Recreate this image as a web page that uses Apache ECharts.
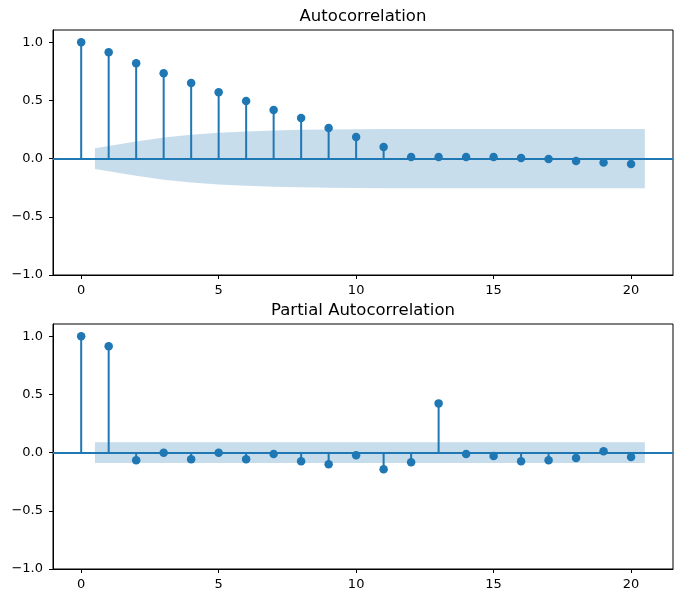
<!DOCTYPE html>
<html>
<head>
<meta charset="utf-8">
<script src="https://cdn.jsdelivr.net/npm/echarts@6/dist/echarts.min.js"></script>
<style>
html,body{margin:0;padding:0;background:#fff;}
#chart{width:683px;height:603px;}
</style>
</head>
<body>
<div id="chart"></div>
<script>
// ---- data ----
const lags = [0,1,2,3,4,5,6,7,8,9,10,11,12,13,14,15,16,17,18,19,20];
const acfValues = [1.0,0.914,0.82,0.734,0.649,0.571,0.494,0.417,0.349,0.263,0.186,0.10,0.014,0.014,0.014,0.014,0.006,-0.003,-0.02,-0.034,-0.046];
const pacfValues = [1.0,0.914,-0.066,-0.002,-0.057,-0.002,-0.057,-0.011,-0.074,-0.10,-0.023,-0.143,-0.083,0.423,-0.011,-0.029,-0.074,-0.066,-0.046,0.011,-0.037];
const bandX = [0.5,2,3,4,5,6,7,8,9,10,11,12,13,14,15,16,17,18,19,20.5];
const acfBand = [0.09,0.148,0.182,0.205,0.222,0.233,0.241,0.247,0.251,0.253,0.254,0.255,0.255,0.255,0.255,0.255,0.255,0.255,0.255,0.255];
const pacfBand = [0.09,0.09,0.09,0.09,0.09,0.09,0.09,0.09,0.09,0.09,0.09,0.09,0.09,0.09,0.09,0.09,0.09,0.09,0.09,0.09];
const xTicks = [0,5,10,15,20];
const yTicks = [-1,-0.5,0,0.5,1];
const titles = ['Autocorrelation','Partial Autocorrelation'];

// ---- chart ----
const BLUE = '#1f77b4';
const FONT = '"DejaVu Sans", sans-serif';
const chart = echarts.init(document.getElementById('chart'), null, {renderer:'canvas'});

const grids = [
  {left:53, right:10, top:30, height:245},
  {left:53, right:10, top:324, height:245}
];

function xAxisDef(i){
  return {
    type:'value', gridIndex:i, min:-1.025, max:21.525,
    splitLine:{show:false},
    axisLine:{show:true, onZero:false, lineStyle:{color:'#000', width:1}},
    axisTick:{show:true, length:4, inside:false, customValues:xTicks, lineStyle:{color:'#000', width:1}},
    axisLabel:{show:true, margin:9, customValues:xTicks, color:'#000', fontFamily:FONT, fontSize:13,
      formatter:v=>String(v)}
  };
}
function yAxisDef(i){
  return {
    type:'value', gridIndex:i, min:-1, max:1.105,
    splitLine:{show:false},
    axisLine:{show:true, onZero:false, lineStyle:{color:'#000', width:1}},
    axisTick:{show:true, length:4, inside:false, customValues:yTicks, lineStyle:{color:'#000', width:1}},
    axisLabel:{show:true, margin:10, customValues:yTicks, color:'#000', fontFamily:FONT, fontSize:13,
      formatter:v=>(v<0?'\u2212':'')+Math.abs(v).toFixed(1)}
  };
}

function bandSeries(i, half){
  return {
    type:'custom', xAxisIndex:i, yAxisIndex:i, z:1, silent:true,
    data:[[bandX[0], half[0]]],
    encode:{x:0, y:1},
    renderItem:function(params, api){
      const pts = [];
      for (let k=0;k<bandX.length;k++) pts.push(api.coord([bandX[k], half[k]]));
      for (let k=bandX.length-1;k>=0;k--) pts.push(api.coord([bandX[k], -half[k]]));
      return {type:'polygon', shape:{points:pts}, style:{fill:BLUE, opacity:0.25}};
    }
  };
}
function stemSeries(i, vals){
  return {
    type:'custom', xAxisIndex:i, yAxisIndex:i, z:3, silent:true,
    data:lags.map((l,k)=>[l, vals[k]]),
    encode:{x:0, y:1},
    renderItem:function(params, api){
      const p0 = api.coord([api.value(0), 0]);
      const p1 = api.coord([api.value(0), api.value(1)]);
      return {type:'line', shape:{x1:p0[0], y1:p0[1], x2:p1[0], y2:p1[1]},
        style:{stroke:BLUE, lineWidth:2}};
    },
    markLine:{
      silent:true, symbol:['none','none'], label:{show:false},
      lineStyle:{color:BLUE, width:2, type:'solid'},
      data:[{yAxis:0}], animation:false
    }
  };
}
function markerSeries(i, vals){
  return {
    type:'scatter', xAxisIndex:i, yAxisIndex:i, z:4, silent:true,
    symbol:'circle', symbolSize:8.5,
    itemStyle:{color:BLUE, opacity:1},
    data:lags.map((l,k)=>[l, vals[k]])
  };
}

const option = {
  animation:false,
  backgroundColor:'#fff',
  grid:grids.map(g=>Object.assign({show:true, borderColor:'#000', borderWidth:1, backgroundColor:'transparent'}, g)),
  xAxis:[xAxisDef(0), xAxisDef(1)],
  yAxis:[yAxisDef(0), yAxisDef(1)],
  graphic:[
    {type:'text', x:363, y:17, style:{text:titles[0], textAlign:'center', textVerticalAlign:'middle', font:'16.5px "DejaVu Sans", sans-serif', fill:'#000'}},
    {type:'text', x:363, y:311, style:{text:titles[1], textAlign:'center', textVerticalAlign:'middle', font:'16.5px "DejaVu Sans", sans-serif', fill:'#000'}}
  ],
  series:[
    bandSeries(0, acfBand), stemSeries(0, acfValues), markerSeries(0, acfValues),
    bandSeries(1, pacfBand), stemSeries(1, pacfValues), markerSeries(1, pacfValues)
  ]
};
chart.setOption(option);
</script>
</body>
</html>
